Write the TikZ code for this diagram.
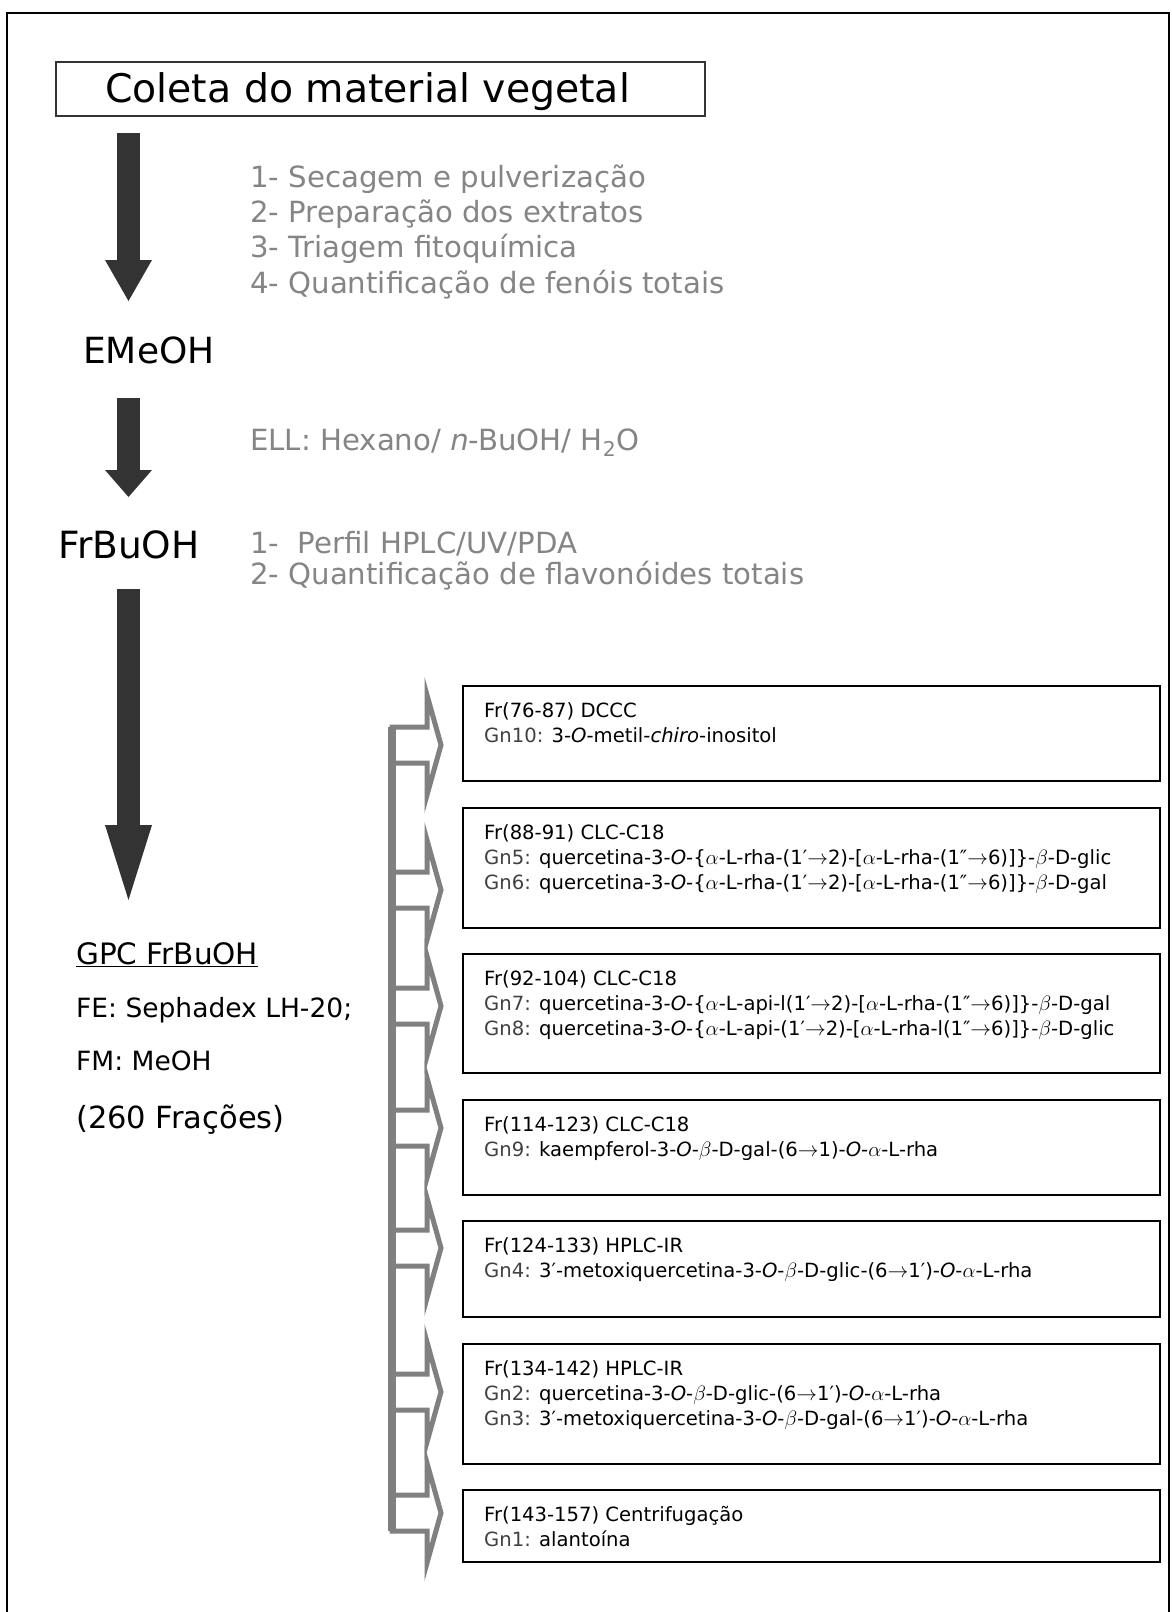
\documentclass[tikz,border=0pt]{standalone}
\usepackage{fontspec}
\setmainfont{DejaVu Sans}
\usetikzlibrary{arrows.meta,positioning}
\definecolor{arrowdark}{HTML}{333333}
\definecolor{stepgray}{HTML}{858585}
\definecolor{branchgray}{HTML}{808080}
\definecolor{gnclr}{HTML}{404040}
\newcommand\alp{\ensuremath{\alpha}}
\newcommand\bet{\ensuremath{\beta}}
\newcommand\yields{\ensuremath{\rightarrow}}

\begin{document}
\begin{tikzpicture}[x=1pt, y=-1pt,
  bigarrow/.style={draw=arrowdark, line width=23pt, -{Triangle[length=#1, width=47pt, line width=0pt]}},
  branch/.style={draw=branchgray, fill=white, line width=5pt, line join=miter},
  trunk/.style={draw=branchgray, line width=8pt},
  fracbox/.style={draw, line width=2pt, minimum width=697pt, inner sep=0pt},
  fractext/.style={anchor=base west, align=left, inner sep=0pt, font=\fontsize{19.6}{25}\selectfont},
  steps/.style={anchor=base west, align=left, inner sep=0pt, text=stepgray, font=\fontsize{29.2}{35.3}\selectfont},
  stage/.style={anchor=base west, inner sep=0pt, font=\fontsize{#1}{40}\selectfont},
  gpcline/.style={anchor=base west, inner sep=0pt, font=\fontsize{#1}{#1}\selectfont},
  node distance=24.5pt]

\useasboundingbox (0,0) rectangle (1172,1612);
% moldura
\draw[line width=2pt] (7,1620) |- (1169,13) -- (1169,1620);

% coleta
\node[draw=black!80, line width=1.5pt, minimum width=649pt, minimum height=54pt, inner sep=0pt] (coleta) at (380.5,89) {};
\node[anchor=base west, inner sep=0pt, font=\fontsize{39.4}{44}\selectfont] (coletatxt) at (105,102) {Coleta do material vegetal};

\coordinate (a1s) at (128.5,133);
\coordinate (a1e) at (128.5,301);
\draw[bigarrow=41pt] (a1s) -- (a1e);
\node[steps] (etapas) at (250,293) {1- Secagem e pulverização\\2- Preparação dos extratos\\3- Triagem fitoquímica\\4- Quantificação de fenóis totais};

% extrato
\node[stage=36] (emeoh) at (83,363) {EMeOH};
\coordinate (a2s) at (128.5,398);
\coordinate (a2e) at (128.5,497);
\draw[bigarrow=27pt] (a2s) -- (a2e);
\node[steps] (ell) at (250,450) {ELL: Hexano/ \textit{n}-BuOH/ H\textsubscript{2}O};

% fracao butanolica
\node[stage=37.5] (frbuoh) at (58,558) {FrBuOH};
\node[steps, font=\fontsize{29.2}{31.5}\selectfont] (perfil) at (250,584.5) {1-\ \ Perfil HPLC/UV/PDA\\2- Quantificação de flavonóides totais};
\coordinate (a3s) at (128.5,589);
\coordinate (a3e) at (128.5,900);
\draw[bigarrow=75pt] (a3s) -- (a3e);

% GPC
\node[gpcline=29.5] (gpc) at (76,964) {\underline{GPC FrBuOH}};
\node[gpcline=26.5] (fe) at (76,1017) {FE: Sephadex LH-20;};
\node[gpcline=26.5] (fm) at (76,1070) {FM: MeOH};
\node[gpcline=30.5] (nfrac) at (76,1128) {(260 Frações)};

% setas ramificadas
\coordinate (f1) at (392,745);
\coordinate (f2) at (392,890);
\coordinate (f3) at (392,1006);
\coordinate (f4) at (392,1128);
\coordinate (f5) at (392,1248);
\coordinate (f6) at (392,1392);
\coordinate (f7) at (392,1513);
\draw[branch] (f1) ++(0,-18) -- ++(35,0) -- ++(0,-32) -- ++(14,50) -- ++(-14,50) -- ++(0,-32) -- ++(-35,0) -- cycle;
\draw[branch] (f2) ++(0,-18) -- ++(35,0) -- ++(0,-32) -- ++(14,50) -- ++(-14,50) -- ++(0,-32) -- ++(-35,0) -- cycle;
\draw[branch] (f3) ++(0,-18) -- ++(35,0) -- ++(0,-32) -- ++(14,50) -- ++(-14,50) -- ++(0,-32) -- ++(-35,0) -- cycle;
\draw[branch] (f4) ++(0,-18) -- ++(35,0) -- ++(0,-32) -- ++(14,50) -- ++(-14,50) -- ++(0,-32) -- ++(-35,0) -- cycle;
\draw[branch] (f5) ++(0,-18) -- ++(35,0) -- ++(0,-32) -- ++(14,50) -- ++(-14,50) -- ++(0,-32) -- ++(-35,0) -- cycle;
\draw[branch] (f6) ++(0,-18) -- ++(35,0) -- ++(0,-32) -- ++(14,50) -- ++(-14,50) -- ++(0,-32) -- ++(-35,0) -- cycle;
\draw[branch] (f7) ++(0,-18) -- ++(35,0) -- ++(0,-32) -- ++(14,50) -- ++(-14,50) -- ++(0,-32) -- ++(-35,0) -- cycle;
\coordinate (trtop) at (392,727);
\coordinate (trbot) at (392,1531);
\draw[trunk] (trtop) -- (trbot);

% fracoes
\node[fracbox, minimum height=95pt] (box1) at (811.5,733.5) {};
\node[fracbox, minimum height=120pt, below=of box1] (box2) {};
\node[fracbox, minimum height=119pt, below=of box2] (box3) {};
\node[fracbox, minimum height=95pt, below=of box3] (box4) {};
\node[fracbox, minimum height=96pt, below=of box4] (box5) {};
\node[fracbox, minimum height=120pt, below=of box5] (box6) {};
\node[fracbox, minimum height=72pt, below=of box6] (box7) {};

\node[fractext] (txt1) at ([shift={(22pt,-57.5pt)}]box1.north west) {Fr(76-87) DCCC\\\textcolor{gnclr}{Gn10:} 3-\textit{O}-metil-\textit{chiro}-inositol};
\node[fractext] (txt2) at ([shift={(22pt,-82.5pt)}]box2.north west) {Fr(88-91) CLC-C18\\\textcolor{gnclr}{Gn5:} quercetina-3-\textit{O}-\{\alp-L-rha-(1′\yields2)-[\alp-L-rha-(1″\yields6)]\}-\bet-D-glic\\\textcolor{gnclr}{Gn6:} quercetina-3-\textit{O}-\{\alp-L-rha-(1′\yields2)-[\alp-L-rha-(1″\yields6)]\}-\bet-D-gal};
\node[fractext] (txt3) at ([shift={(22pt,-82.5pt)}]box3.north west) {Fr(92-104) CLC-C18\\\textcolor{gnclr}{Gn7:} quercetina-3-\textit{O}-\{\alp-L-api-l(1′\yields2)-[\alp-L-rha-(1″\yields6)]\}-\bet-D-gal\\\textcolor{gnclr}{Gn8:} quercetina-3-\textit{O}-\{\alp-L-api-(1′\yields2)-[\alp-L-rha-l(1″\yields6)]\}-\bet-D-glic};
\node[fractext] (txt4) at ([shift={(22pt,-57.5pt)}]box4.north west) {Fr(114-123) CLC-C18\\\textcolor{gnclr}{Gn9:} kaempferol-3-\textit{O}-\bet-D-gal-(6\yields1)-\textit{O}-\alp-L-rha};
\node[fractext] (txt5) at ([shift={(22pt,-57.5pt)}]box5.north west) {Fr(124-133) HPLC-IR\\\textcolor{gnclr}{Gn4:} 3′-metoxiquercetina-3-\textit{O}-\bet-D-glic-(6\yields1′)-\textit{O}-\alp-L-rha};
\node[fractext] (txt6) at ([shift={(22pt,-82.5pt)}]box6.north west) {Fr(134-142) HPLC-IR\\\textcolor{gnclr}{Gn2:} quercetina-3-\textit{O}-\bet-D-glic-(6\yields1′)-\textit{O}-\alp-L-rha\\\textcolor{gnclr}{Gn3:} 3′-metoxiquercetina-3-\textit{O}-\bet-D-gal-(6\yields1′)-\textit{O}-\alp-L-rha};
\node[fractext] (txt7) at ([shift={(22pt,-57.5pt)}]box7.north west) {Fr(143-157) Centrifugação\\\textcolor{gnclr}{Gn1:} alantoína};
\end{tikzpicture}
\end{document}
